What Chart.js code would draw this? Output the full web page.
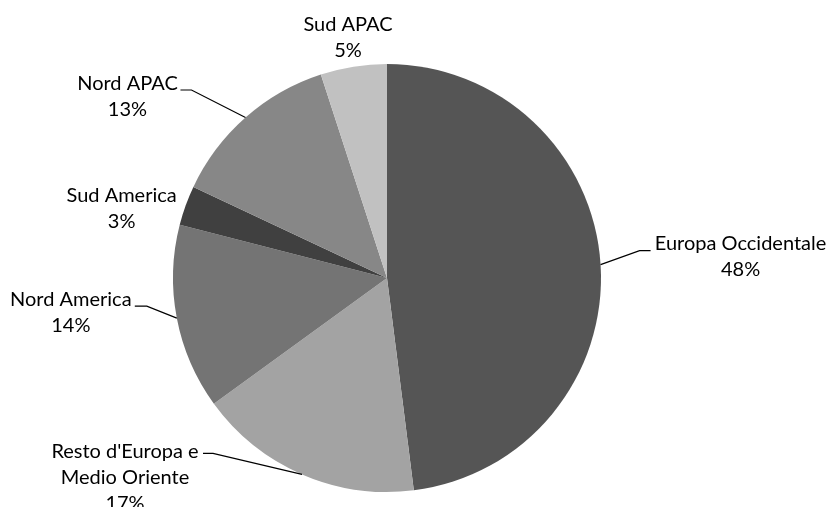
<!DOCTYPE html>
<html>
<head>
<meta charset="utf-8">
<script src="https://cdn.jsdelivr.net/npm/chart.js@4.4.0/dist/chart.umd.min.js"></script>
<style>
  html, body { margin: 0; padding: 0; background: #fff; }
  #wrap { width: 826px; height: 507px; }
</style>
</head>
<body>
<div id="wrap"><canvas id="pieChart" width="826" height="507"></canvas></div>
<script>
// data
var regions = ["Europa Occidentale", "Resto d'Europa e\nMedio Oriente", "Nord America", "Sud America", "Nord APAC", "Sud APAC"];
var shares = [48, 17, 14, 3, 13, 5];
var sliceColors = ["#555555", "#a3a3a3", "#747474", "#404040", "#878787", "#c1c1c1"];

// label layout, relative to the point on the rim at the middle of each slice
// [text dx, text dy, elbow dx, elbow dy, leader end dx]  (null = no leader)
var labelLayout = [
    [140, -8, 39, -14, 50],
    [-177, 3, -89, -21, -99],
    [-106, -6, -30, -12, -42],
    [-64, 3.5, null, null, null],
    [-118, -21, -54, -27.5, -65],
    [-5.5, -28.6, null, null, null]
];

var labelFont = "20px Lato";
var lineGap = 26;

var pieLabels = {
    id: "pieLabels",
    afterDraw: function(chart){
        var ctx = chart.ctx;
        var meta = chart.getDatasetMeta(0);
        var total = shares.reduce(function(a, b){ return a + b; }, 0);
        ctx.save();
        ctx.font = labelFont;
        ctx.fillStyle = "#000";
        ctx.strokeStyle = "#000";
        ctx.lineWidth = 1.2;
        ctx.textAlign = "center";
        ctx.textBaseline = "middle";
        meta.data.forEach(function(arc, i){
            var p = arc.getProps(["x", "y", "startAngle", "endAngle", "outerRadius"], true);
            var mid = (p.startAngle + p.endAngle) / 2;
            var ex = p.x + Math.cos(mid) * p.outerRadius;
            var ey = p.y + Math.sin(mid) * p.outerRadius;
            var lay = labelLayout[i];

            var lines = regions[i].split("\n");
            lines.push(Math.round(shares[i] / total * 100) + "%");
            var cx = ex + lay[0];
            var cy = ey + lay[1];
            var top = cy - (lines.length - 1) * lineGap / 2;
            lines.forEach(function(t, j){
                ctx.fillText(t, cx, top + j * lineGap);
            });

            if (lay[2] !== null) {
                ctx.beginPath();
                ctx.moveTo(ex, ey);
                ctx.lineTo(ex + lay[2], ey + lay[3]);
                ctx.lineTo(ex + lay[4], ey + lay[3]);
                ctx.stroke();
            }
        });
        ctx.restore();
    }
};

var ctx = document.getElementById("pieChart");

var pieChart = new Chart(ctx, {
    type: "pie",
    data: {
        labels: regions,
        datasets: [
            {
                data: shares,
                backgroundColor: sliceColors,
                borderWidth: 0
            }
        ]
    },
    options: {
        responsive: false,
        animation: false,
        layout: {
            padding: { left: 173, right: 225, top: 64, bottom: 15 }
        },
        plugins: {
            legend: { display: false },
            tooltip: { enabled: false }
        }
    },
    plugins: [pieLabels]
});
</script>
</body>
</html>
